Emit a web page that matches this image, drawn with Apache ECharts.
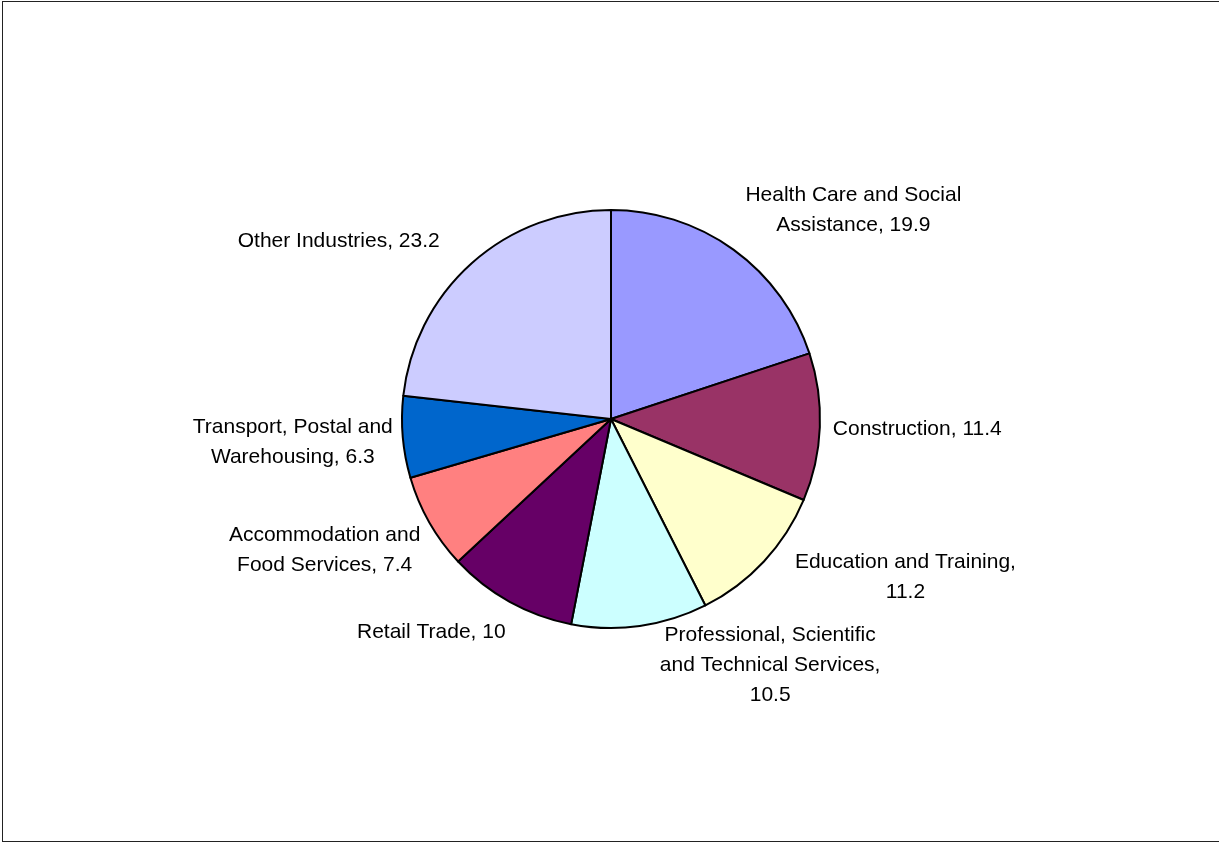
<!DOCTYPE html>
<html>
<head>
<meta charset="utf-8">
<script src="https://cdn.jsdelivr.net/npm/echarts@6/dist/echarts.min.js"></script>
<style>
  html, body { margin: 0; padding: 0; background: #fff; overflow: hidden; }
  #frame {
    position: absolute; left: 2px; top: 1px; width: 1217px; height: 841px;
    border: 1px solid #222; border-right: none; box-sizing: border-box;
  }
  #chart { position: absolute; left: 0; top: 0; width: 1219px; height: 843px; }
</style>
</head>
<body>
<div id="frame"></div>
<div id="chart"></div>
<script>
// Employment share by industry (%)
const industries = [
  'Health Care and Social\nAssistance',
  'Construction',
  'Education and Training,\n',
  'Professional, Scientific\nand Technical Services,\n',
  'Retail Trade',
  'Accommodation and\nFood Services',
  'Transport, Postal and\nWarehousing',
  'Other Industries'
];
const shares = [19.9, 11.4, 11.2, 10.5, 10, 7.4, 6.3, 23.2];
const sliceColors = ['#9999FF', '#993366', '#FFFFCC', '#CCFFFF', '#660066', '#FF8080', '#0066CC', '#CCCCFF'];

// Label placement: horizontal gap from the slice's outer point to the near
// edge of the label box, and vertical shift of the label box centre.
const labelGapX = [12, 13, 31, 20, -4, -9, -10, -32];
const labelShiftY = [-39, 2, 16, 39, 30, 28, 5, -22];

const chart = echarts.init(document.getElementById('chart'), null, { renderer: 'canvas' });

function labelText(i) {
  const name = industries[i];
  const sep = name.endsWith('\n') ? '' : ', ';
  const full = name + sep + shares[i];
  return full.split('\n').map(function (l) { return '{c|' + l + '}'; }).join('\n');
}

chart.setOption({
  animation: false,
  backgroundColor: 'transparent',
  series: [{
    type: 'pie',
    center: [611, 419],
    radius: 209,
    startAngle: 90,
    clockwise: true,
    avoidLabelOverlap: false,
    data: shares.map(function (v, i) {
      return { name: industries[i], value: v, itemStyle: { color: sliceColors[i] } };
    }),
    itemStyle: { borderColor: '#000', borderWidth: 2 },
    emphasis: { disabled: true },
    labelLine: { show: false },
    label: {
      show: true,
      position: 'outside',
      formatter: function (p) { return labelText(p.dataIndex); },
      rich: {
        c: {
          align: 'center',
          fontFamily: '"Liberation Sans", Arial, sans-serif',
          fontSize: 21,
          lineHeight: 30,
          color: '#000'
        }
      }
    },
    labelLayout: function (p) {
      const layout = chart.getModel().getSeriesByIndex(0).getData().getItemLayout(p.dataIndex);
      const mid = (layout.startAngle + layout.endAngle) / 2;
      const ex = layout.cx + layout.r * Math.cos(mid);
      const ey = layout.cy + layout.r * Math.sin(mid);
      const w = p.labelRect.width;
      const onRight = Math.cos(mid) > 0;
      const gx = labelGapX[p.dataIndex];
      const x = onRight ? ex + gx + w / 2 : ex + gx - w / 2;
      return {
        x: x,
        y: ey + labelShiftY[p.dataIndex],
        align: 'center',
        verticalAlign: 'middle'
      };
    }
  }]
});
</script>
</body>
</html>
